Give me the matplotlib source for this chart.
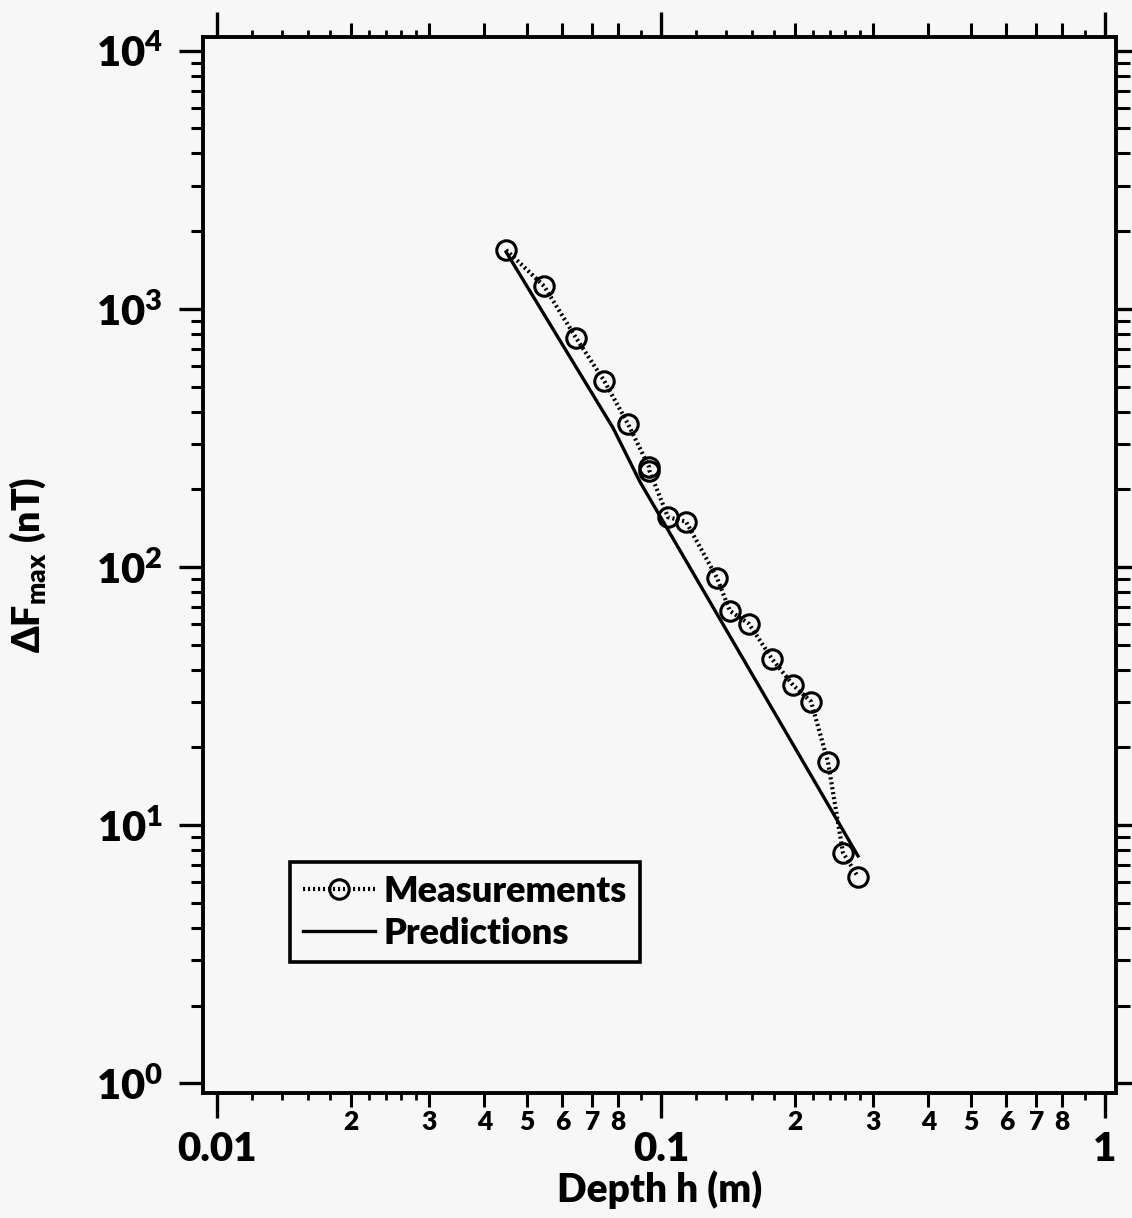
import math
import matplotlib
matplotlib.use('Agg')
import matplotlib.pyplot as plt
from matplotlib.ticker import FixedLocator, FuncFormatter, NullFormatter, NullLocator

# ---- data ----
depth_meas = [0.0448, 0.0545, 0.0644, 0.0745, 0.0843, 0.0940, 0.0942, 0.1037, 0.1138,
              0.1337, 0.1430, 0.1578, 0.1778, 0.1983, 0.2178, 0.2377, 0.2570, 0.2778]
dF_meas = [1690, 1227, 771, 526, 358, 244, 236, 156, 150,
           90.8, 67.6, 60.3, 44.1, 34.9, 30.1, 17.6, 7.82, 6.31]

depth_pred = [0.0448, 0.0780, 0.0897, 0.2778]
dF_pred = [1661, 345.7, 213.6, 7.60]

x_major = [0.01, 0.1, 1]
x_major_labels = ['0.01', '0.1', '1']
x_minor_digits = [2, 3, 4, 5, 6, 7, 8]
x_fine_steps = [1.2, 1.4, 1.6, 1.8, 2.2, 2.4, 2.6, 2.8, 9]
y_major = [1, 10, 100, 1000, 10000]
y_major_labels = [r'$10^{0}$', r'$10^{1}$', r'$10^{2}$', r'$10^{3}$', r'$10^{4}$']
y_minor_digits = [2, 3, 4, 5, 6, 7, 8, 9]

legend_labels = ['Measurements', 'Predictions']
x_label = 'Depth h (m)'
y_label = r'$\Delta\mathrm{F}_{\mathrm{max}}\ \mathrm{(nT)}$'

# ---- style ----
W = 'heavy'
plt.rcParams['font.family'] = ['Lato', 'DejaVu Sans']
plt.rcParams['font.weight'] = W
plt.rcParams['mathtext.fontset'] = 'custom'
plt.rcParams['mathtext.rm'] = 'Lato:heavy'
plt.rcParams['mathtext.it'] = 'Lato:heavy'
plt.rcParams['mathtext.bf'] = 'Lato:heavy'
plt.rcParams['mathtext.default'] = 'rm'

bg = '#f7f7f7'
fig = plt.figure(figsize=(11.32, 12.18), dpi=100, facecolor=bg)
ax = fig.add_axes([0.1793, 0.1026, 0.9859 - 0.1793, 0.9696 - 0.1026])
ax.set_facecolor(bg)
ax.set_xscale('log')
ax.set_yscale('log')

ax.plot(depth_meas, dF_meas, linestyle=(0, (0.5, 0.7)), color='black', lw=3.0,
        marker='o', markersize=14, markerfacecolor='none', markeredgecolor='black',
        markeredgewidth=2.2, label=legend_labels[0])
ax.plot(depth_pred, dF_pred, '-', color='black', lw=2.4, label=legend_labels[1])

ax.set_xlim(0.0093, 1.059)
ax.set_ylim(10 ** -0.0376, 10 ** 4.053)

for s in ax.spines.values():
    s.set_linewidth(2.8)

def minor_digit(v, p):
    e = math.floor(math.log10(v) + 1e-9)
    return '%d' % round(v / 10 ** e)

# x ticks
x_minor = [d * e for e in (0.01, 0.1) for d in x_minor_digits]
ax.xaxis.set_major_locator(FixedLocator(x_major))
ax.xaxis.set_major_formatter(FuncFormatter(
    lambda v, p: dict(zip([round(m, 6) for m in x_major], x_major_labels)).get(round(v, 6), '')))
ax.xaxis.set_minor_locator(FixedLocator(x_minor))
ax.xaxis.set_minor_formatter(FuncFormatter(minor_digit))
ax.tick_params(axis='x', which='major', direction='out', length=18, width=2.4,
               pad=9, labelsize=29, top=True, bottom=True)
ax.tick_params(axis='x', which='minor', direction='out', length=10, width=2.2,
               pad=2, labelsize=19, top=True, bottom=True)

# y ticks
y_minor = [d * e for e in (1, 10, 100, 1000) for d in y_minor_digits]
ax.yaxis.set_major_locator(FixedLocator(y_major))
ax.yaxis.set_major_formatter(FuncFormatter(
    lambda v, p: dict(zip([round(m, 6) for m in y_major], y_major_labels)).get(round(v, 6), '')))
ax.yaxis.set_minor_locator(FixedLocator(y_minor))
ax.yaxis.set_minor_formatter(NullFormatter())
ax.tick_params(axis='y', which='major', direction='out', length=17, width=2.4,
               pad=12, labelsize=30, left=True, right=False)
ax.tick_params(axis='y', which='minor', direction='out', length=9, width=2.2,
               left=True, right=False)

# fine extra ticks on bottom and top
x_fine = [s * e for e in (0.01, 0.1) for s in x_fine_steps]
for loc in ('bottom', 'top'):
    sec = ax.secondary_xaxis(loc)
    sec.xaxis.set_major_locator(FixedLocator(x_fine))
    sec.xaxis.set_major_formatter(NullFormatter())
    sec.xaxis.set_minor_locator(NullLocator())
    sec.tick_params(which='major', direction='out', length=5, width=2.0)
    sec.spines[loc].set_visible(False)

# right axis ticks
secy = ax.secondary_yaxis('right')
secy.yaxis.set_major_locator(FixedLocator(y_major))
secy.yaxis.set_major_formatter(NullFormatter())
secy.yaxis.set_minor_locator(FixedLocator(y_minor))
secy.yaxis.set_minor_formatter(NullFormatter())
secy.tick_params(which='major', direction='out', length=12, width=2.4)
secy.tick_params(which='minor', direction='out', length=10, width=2.2)
secy.spines['right'].set_visible(False)

ax.set_xlabel(x_label, fontsize=28, fontweight=W, labelpad=2)
ax.set_ylabel(y_label, fontsize=27, labelpad=34)

leg = ax.legend(loc='upper left', bbox_to_anchor=(0.0953, 0.2188), borderaxespad=0,
                fontsize=26, frameon=True, fancybox=False, edgecolor='black',
                facecolor=bg, framealpha=1, handlelength=2.0, handletextpad=0.25,
                labelspacing=0.25, borderpad=0.35)
leg.get_frame().set_linewidth(2.6)

fig.savefig('out.png', dpi=100, facecolor=bg)
